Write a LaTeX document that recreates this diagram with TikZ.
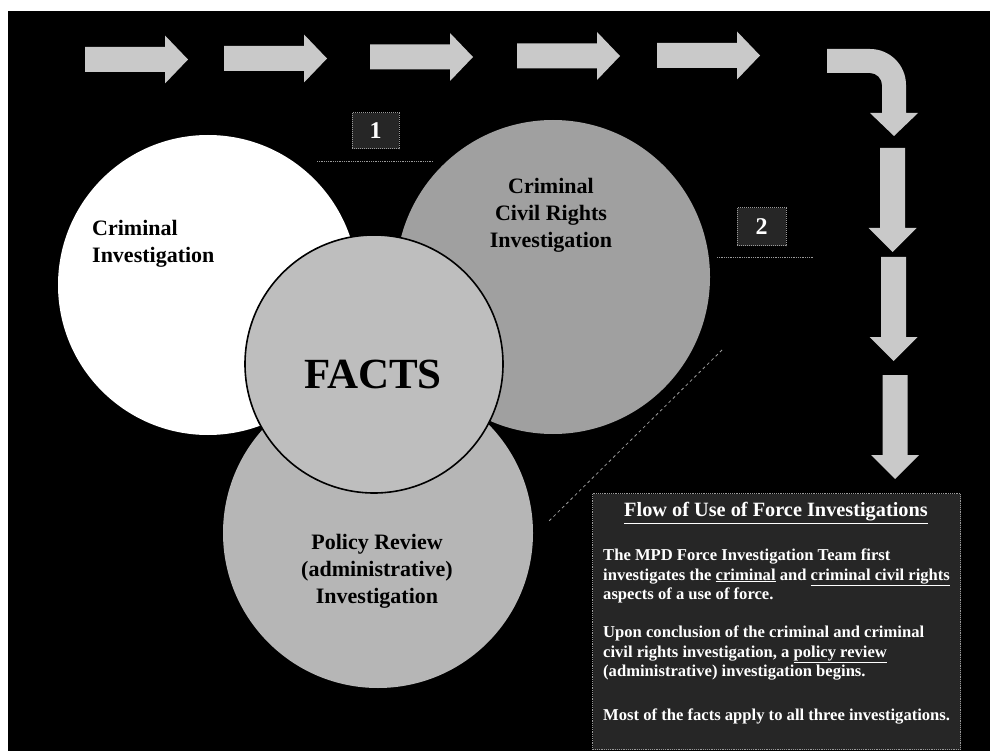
\documentclass[tikz,border=0pt]{standalone}
\usepackage{fontspec}
\setmainfont{Liberation Serif}
\definecolor{arrowgray}{HTML}{C9C9C9}
\definecolor{civgray}{HTML}{A0A0A0}
\definecolor{factsgray}{HTML}{BEBEBE}
\definecolor{polgray}{HTML}{B6B6B6}
\definecolor{boxgray}{HTML}{262626}
\definecolor{dotgray}{HTML}{9A9A9A}
\begin{document}
\begin{tikzpicture}[x=1pt,y=-1pt,
  blockarrow/.style={fill=arrowgray},
  circ/.style={circle, inner sep=0pt, minimum size=#1},
  lbl/.style={font=\bfseries\fontsize{22}{27}\selectfont, text=black, inner sep=0pt},
  numbox/.style={draw=dotgray, densely dotted, line width=1pt, fill=boxgray, text=white,
     font=\bfseries\fontsize{24}{24}\selectfont, inner sep=0pt},
  boxtxt/.style={text=white, inner sep=0pt, align=left,
     font=\bfseries\fontsize{16.6}{19.8}\selectfont},
  leader/.style={dotgray, densely dotted, line width=0.8pt}
]
\useasboundingbox (0,0) rectangle (990,751);
\fill[white] (0,0) rectangle (990,751);
\fill[black] (8,11) rectangle (990,751);

% horizontal block arrows
\foreach \L/\C in {85/59.5, 224/58.5, 370/57, 517/56, 657/55.5}{
  \fill[blockarrow] (\L,\C-12.5) -- (\L+80,\C-12.5) -- (\L+80,\C-24) -- (\L+103,\C)
     -- (\L+80,\C+24) -- (\L+80,\C+12.5) -- (\L,\C+12.5) -- cycle;
}
% curved arrow
\fill[blockarrow] (827,49) -- (870,49) .. controls (889.9,49) and (906,65.1) .. (906,85)
  -- (906,113) -- (918,113) -- (894,136) -- (870,113) -- (882,113) -- (882,85)
  .. controls (882,78.4) and (876.6,73) .. (870,73) -- (827,73) -- cycle;
% vertical block arrows
\foreach \X/\T in {892.5/148, 893.5/257, 895/375}{
  \fill[blockarrow] (\X-12.5,\T) -- (\X+12.5,\T) -- (\X+12.5,\T+80) -- (\X+24,\T+80)
     -- (\X,\T+104) -- (\X-24,\T+80) -- (\X-12.5,\T+80) -- cycle;
}

% circles
\node[circ=300pt, fill=white] (crim) at (208,285) {};
\node[circ=314pt, fill=civgray] (civ) at (553,277) {};
\node[circ=310pt, fill=polgray] (pol) at (378,533) {};
\node[circ=258pt, fill=factsgray, draw=black, line width=1.6pt] (facts) at (374,364) {};

\node[lbl, anchor=west, align=left] (crimtxt) at (92,244) {Criminal\\Investigation};
\node[lbl, align=center] (civtxt) at (551,215) {Criminal\\Civil Rights\\Investigation};
\node[lbl, align=center] (poltxt) at (377,571) {Policy Review\\(administrative)\\Investigation};
\node[inner sep=0pt, font=\bfseries\fontsize{43}{43}\selectfont] (factstxt) at (373,374) {FACTS};

% step numbers
\node[numbox, minimum width=47pt, minimum height=36pt] (one) at (375.5,131) {1};
\node[numbox, minimum width=49pt, minimum height=38pt] (two) at (761.5,227) {2};
\coordinate (oneL) at (317,161); \coordinate (oneR) at (433,161);
\coordinate (twoL) at (717,257); \coordinate (twoR) at (813,257);
\draw[leader] (oneL) -- (oneR);
\draw[leader] (twoL) -- (twoR);
\coordinate (diagA) at (722,350); \coordinate (diagB) at (548,522);
\draw[dotgray, dashed, line width=0.8pt] (diagA) -- (diagB);

% explanation box
\node[draw=dotgray, densely dotted, line width=1.2pt, fill=boxgray, minimum width=368pt,
  minimum height=256pt, anchor=north west, inner sep=0pt] (box) at (592,493) {};
\node[text=white, inner sep=0pt, font=\bfseries\fontsize{20.3}{21}\selectfont] (title)
  at (776,513) {\underline{Flow of Use of Force Investigations}};
\node[boxtxt, anchor=west] (p1) at (603,576) {The MPD Force Investigation Team first\\
  investigates the \underline{criminal} and \underline{criminal civil rights}\\
  aspects of a use of force.};
\node[boxtxt, anchor=west] (p2) at (603,653) {Upon conclusion of the criminal and criminal\\
  civil rights investigation, a \underline{policy review}\\
  (administrative) investigation begins.};
\node[boxtxt, anchor=west] (p3) at (603,716) {Most of the facts apply to all three investigations.};
\end{tikzpicture}
\end{document}
